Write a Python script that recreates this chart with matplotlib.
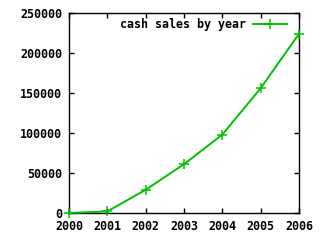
import matplotlib
matplotlib.use("Agg")
from matplotlib import pyplot as plt

# cash sales per year
years = [2000, 2001, 2002, 2003, 2004, 2005, 2006]
sales = [0, 2000, 29000, 61000, 98000, 156000, 224000]
series_label = "cash sales by year"

x_ticks = years
y_ticks = [0, 50000, 100000, 150000, 200000, 250000]

GREEN = "#00c000"
FONT = dict(family="DejaVu Sans Mono", weight="bold", size=8.4)

fig = plt.figure(figsize=(3.2, 2.4), dpi=100)
ax = fig.add_axes([0.2156, 0.1125, 0.7188, 0.8333])

ax.plot(years, sales, color=GREEN, lw=1.4, marker="+", ms=6.5, mew=1.1,
        label=series_label, clip_on=False, zorder=3)

ax.set_xlim(2000, 2006)
ax.set_ylim(0, 250000)
ax.set_xticks(x_ticks)
ax.set_yticks(y_ticks)
ax.set_xticklabels([str(v) for v in x_ticks], **FONT)
ax.set_yticklabels([str(v) for v in y_ticks], **FONT)
ax.tick_params(direction="in", length=3.5, width=1, top=True, right=True,
               pad=5, colors="black")
for s in ax.spines.values():
    s.set_linewidth(1)

# key sits in the top right corner like gnuplot's default
leg = ax.legend(loc="upper right", bbox_to_anchor=(0.968, 0.998), frameon=False,
                prop=FONT, markerfirst=False, handlelength=2.9,
                borderaxespad=0.2, borderpad=0.2, handletextpad=0.6)

fig.savefig("out.png", dpi=100)
